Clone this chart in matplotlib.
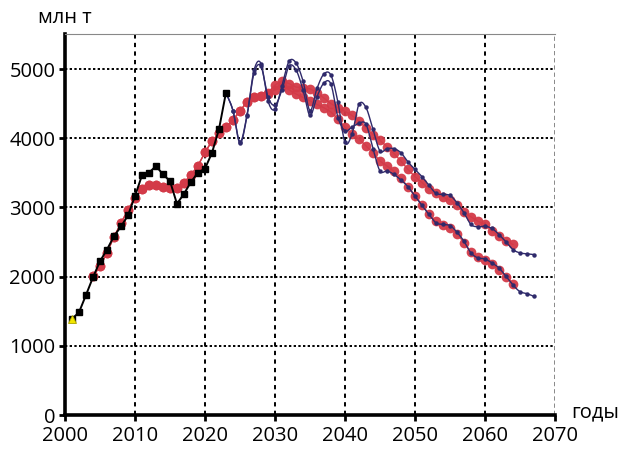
import numpy as np
import matplotlib
matplotlib.use("Agg")
from matplotlib import pyplot as plt

plt.rcParams["font.family"] = ["Open Sans", "DejaVu Sans"]

# historical output, 2001-2023
hist_years = np.arange(2001, 2024)
hist_vals = [1390, 1483, 1734, 1990, 2222, 2391, 2584, 2725, 2884, 3164, 3464, 3502,
             3599, 3478, 3382, 3052, 3198, 3367, 3505, 3560, 3790, 4130, 4660]

# smoothed trend, shared part 2004-2028
trend_years = np.arange(2004, 2029)
trend_vals = [2004, 2150, 2345, 2575, 2770, 2970, 3135, 3260, 3330, 3320, 3295, 3275,
              3285, 3360, 3470, 3605, 3795, 3960, 4070, 4165, 4265, 4395, 4525, 4590, 4615]

# trend after 2028, two variants
trend2_years = np.arange(2029, 2065)
trend_hi = [4660, 4770, 4830, 4790, 4740, 4730, 4715, 4660, 4580, 4500, 4440, 4390,
            4330, 4250, 4150, 4050, 3970, 3880, 3780, 3670, 3550, 3445, 3360, 3270,
            3210, 3150, 3106, 3030, 2930, 2865, 2800, 2755, 2660, 2585, 2510, 2465]
trend_lo = [4640, 4700, 4760, 4700, 4640, 4590, 4540, 4490, 4440, 4380, 4280, 4160,
            4060, 3990, 3890, 3790, 3670, 3600, 3520, 3420, 3300, 3170, 3040, 2900,
            2800, 2750, 2700, 2620, 2490, 2350, 2280, 2240, 2180, 2100, 2000, 1900]

# forecast variants 2023-2067
fc_years = np.arange(2023, 2068)
fc_hi = [4660, 4400, 3930, 4320, 4980, 5080, 4540, 4420, 4760, 5110, 5090, 4830,
         4400, 4720, 4930, 4910, 4520, 3940, 4060, 4490, 4445, 4130, 3816, 3850,
         3850, 3790, 3657, 3551, 3445, 3319, 3203, 3188, 3174, 3068, 2923, 2754,
         2720, 2729, 2696, 2609, 2503, 2391, 2343, 2330, 2319]
fc_lo = [4660, 4400, 3950, 4330, 4940, 5040, 4600, 4480, 4700, 5040, 4990, 4700,
         4330, 4600, 4800, 4780, 4300, 4110, 4160, 4217, 4203, 3850, 3527, 3527,
         3478, 3396, 3300, 3164, 3029, 2899, 2778, 2754, 2739, 2642, 2512, 2343,
         2271, 2256, 2198, 2126, 2005, 1880, 1783, 1754, 1715]

red = "#d33a48"
navy = "#2f2a6b"


def smooth(x, y, n=12):
    # Catmull-Rom curve through the yearly points
    x = np.asarray(x, float)
    y = np.asarray(y, float)
    px = np.concatenate([[2 * x[0] - x[1]], x, [2 * x[-1] - x[-2]]])
    py = np.concatenate([[2 * y[0] - y[1]], y, [2 * y[-1] - y[-2]]])
    t = np.linspace(0, 1, n, endpoint=False)[:, None]
    out_x, out_y = [], []
    for i in range(1, len(px) - 2):
        for p, out in ((px, out_x), (py, out_y)):
            p0, p1, p2, p3 = p[i - 1], p[i], p[i + 1], p[i + 2]
            seg = 0.5 * (2 * p1 + (-p0 + p2) * t + (2 * p0 - 5 * p1 + 4 * p2 - p3) * t ** 2
                         + (-p0 + 3 * p1 - 3 * p2 + p3) * t ** 3)
            out.extend(seg.ravel())
    out_x.append(x[-1])
    out_y.append(y[-1])
    return out_x, out_y


fig = plt.figure(figsize=(6.2, 4.49), dpi=100)
ax = fig.add_axes([0.1048, 0.0757, 0.7903, 0.8475])

# red trend lines
for vals in (trend_hi, trend_lo):
    xs = np.concatenate([trend_years, trend2_years])
    ys = np.concatenate([trend_vals, vals])
    ax.plot(xs, ys, color=red, linewidth=1.0, marker="o", markersize=7,
            markeredgewidth=0, alpha=0.95, zorder=3)

# forecast lines
for vals in (fc_hi, fc_lo):
    sx, sy = smooth(fc_years, vals)
    ax.plot(sx, sy, color=navy, linewidth=1.0, zorder=4)
    ax.plot(fc_years[1:], vals[1:], linestyle="none", color=navy, marker="o",
            markersize=3.2, markeredgewidth=0, zorder=4)

# historical
ax.plot(hist_years, hist_vals, color="black", linewidth=1.4, marker="s",
        markersize=4.8, zorder=5)
ax.plot(hist_years[0], hist_vals[0], linestyle="none", marker="^", color="#f2e600",
        markeredgecolor="#b0a800", markeredgewidth=0.6, markersize=6, zorder=6)

ax.set_xlim(2000, 2070)
ax.set_ylim(0, 5500)
ax.set_xticks(range(2000, 2071, 10))
ax.set_yticks(range(0, 5001, 1000))

# grid
for yv in range(1000, 5001, 1000):
    ax.axhline(yv, color="black", linewidth=1.4, linestyle=(0, (1.2, 1.2)), zorder=1)
for xv in range(2010, 2061, 10):
    ax.axvline(xv, color="black", linewidth=1.4, linestyle=(0, (2.2, 2.2)), zorder=1)
ax.axvline(2070, color="#888888", linewidth=1.4, linestyle=(0, (2.2, 1.5)), zorder=1)

ax.spines["left"].set_linewidth(2.6)
ax.spines["bottom"].set_linewidth(2.6)
ax.spines["right"].set_visible(False)
ax.spines["top"].set_color("#888888")
ax.spines["top"].set_linewidth(0.8)
ax.tick_params(axis="both", direction="out", length=4, width=2, labelsize=14.5,
               colors="black")
ax.tick_params(axis="x", pad=4)
ax.tick_params(axis="y", pad=3)
ax.set_axisbelow(False)

fig.text(0.061, 0.96, "млн т", fontsize=14.5, ha="left", va="center")
fig.text(0.922, 0.082, "годы", fontsize=14.5, ha="left", va="center")

fig.savefig("out.png", dpi=100)
